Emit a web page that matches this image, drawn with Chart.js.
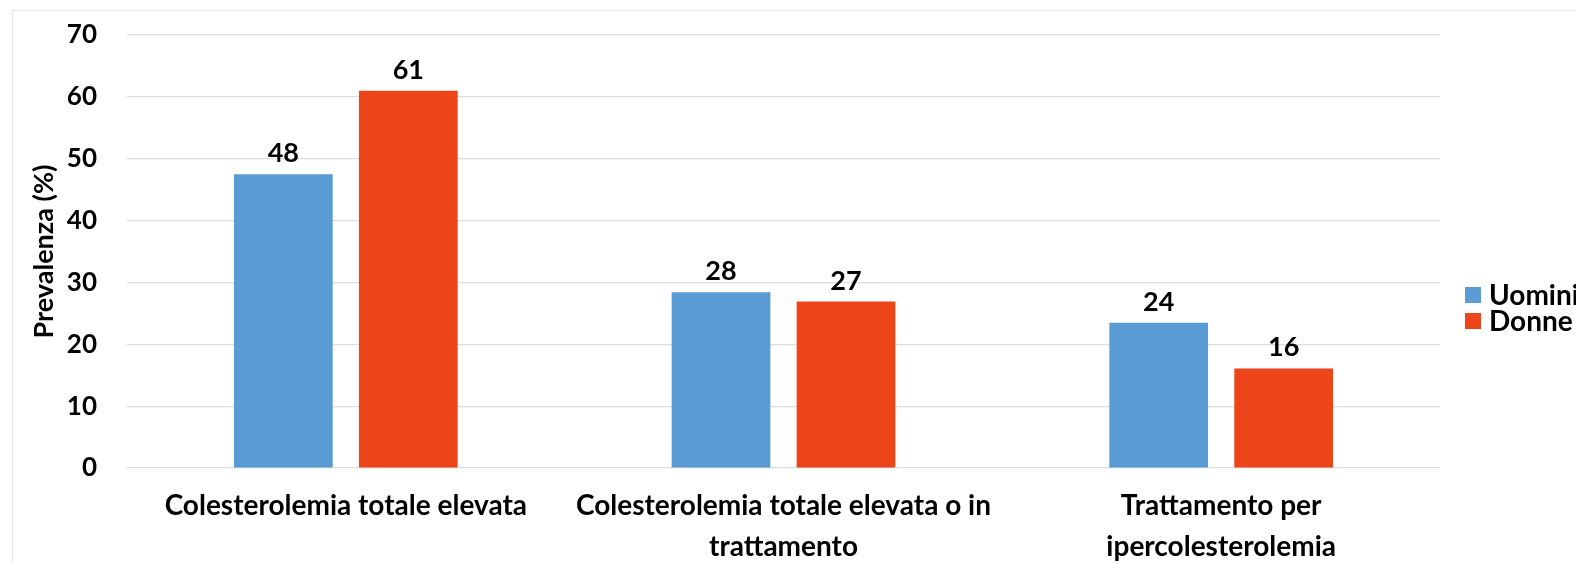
<!DOCTYPE html>
<html>
<head>
<meta charset="utf-8">
<script src="https://cdn.jsdelivr.net/npm/chart.js@4.4.1/dist/chart.umd.min.js"></script>
<style>
  html, body { margin: 0; padding: 0; background: #ffffff; overflow: hidden; }
  body { width: 1576px; height: 563px; position: relative; }
  #frame { position: absolute; left: 12px; top: 10px; width: 1700px; height: 700px; border: 1px solid #e6e6e6; box-sizing: border-box; }
  #wrap { position: absolute; left: 0; top: 0; width: 1576px; height: 563px; }
</style>
</head>
<body>
<div id="frame"></div>
<div id="wrap"><canvas id="c" width="1576" height="563"></canvas></div>
<script>
const categories = [
  ['Colesterolemia totale elevata'],
  ['Colesterolemia totale elevata o in', 'trattamento'],
  ['Trattamento per', 'ipercolesterolemia']
];
const seriesNames = ['Uomini', 'Donne'];
const uomini = [47.5, 28.4, 23.5];
const donne = [61.0, 26.9, 16.1];
const yTicks = [0, 10, 20, 30, 40, 50, 60, 70];
const colors = ['#5B9BD5', '#EE441A'];

const FONT = "Lato, 'Liberation Sans', sans-serif";

const valueLabels = {
  id: 'valueLabels',
  afterDatasetsDraw(chart) {
    const ctx = chart.ctx;
    ctx.save();
    ctx.fillStyle = '#000';
    ctx.font = 'bold 27px ' + FONT;
    ctx.textAlign = 'center';
    ctx.textBaseline = 'alphabetic';
    chart.data.datasets.forEach((ds, i) => {
      chart.getDatasetMeta(i).data.forEach((el, j) => {
        ctx.fillText(String(Math.round(ds.data[j])), el.x, el.y - 12);
      });
    });
    ctx.restore();
  }
};

const sideLegend = {
  id: 'sideLegend',
  afterDraw(chart) {
    const ctx = chart.ctx;
    ctx.save();
    ctx.font = 'bold 28px ' + FONT;
    ctx.textBaseline = 'middle';
    ctx.textAlign = 'left';
    const x0 = chart.chartArea.right + 25;
    const yc = [295, 321];
    chart.data.datasets.forEach((ds, i) => {
      ctx.fillStyle = ds.backgroundColor;
      ctx.fillRect(x0, yc[i] - 8, 16, 16);
      ctx.fillStyle = '#000';
      ctx.fillText(ds.label, x0 + 24, yc[i] + 1);
    });
    ctx.restore();
  }
};

new Chart(document.getElementById('c'), {
  type: 'bar',
  data: {
    labels: categories,
    datasets: [
      { label: seriesNames[0], data: uomini, backgroundColor: colors[0] },
      { label: seriesNames[1], data: donne, backgroundColor: colors[1] }
    ]
  },
  options: {
    responsive: false,
    animation: false,
    devicePixelRatio: 1,
    layout: { padding: { left: 0, right: 136, top: 35, bottom: 0 } },
    datasets: { bar: { categoryPercentage: 0.571, barPercentage: 0.79 } },
    plugins: { legend: { display: false }, tooltip: { enabled: false } },
    scales: {
      x: {
        grid: { display: false },
        border: { display: false },
        ticks: { color: '#000', font: { family: FONT, size: 28, weight: 'bold', lineHeight: 1.46 }, padding: 10, maxRotation: 0, autoSkip: false },
        afterFit: (s) => { s.height = 95; }
      },
      y: {
        min: 0, max: 70,
        afterBuildTicks: (s) => { s.ticks = yTicks.map(v => ({ value: v })); },
        grid: { color: '#dcdcdc', lineWidth: 1.2, drawTicks: true, tickLength: 30, tickColor: 'rgba(0,0,0,0)' },
        border: { display: false },
        ticks: { color: '#000', font: { family: FONT, size: 26, weight: 'bold' }, padding: 0 },
        title: { display: true, text: 'Prevalenza (%)', color: '#000', font: { family: FONT, size: 27, weight: 'bold' }, padding: { top: 28, bottom: 0 } },
        afterFit: (s) => { s.width = 127; }
      }
    }
  },
  plugins: [valueLabels, sideLegend]
});
</script>
</body>
</html>
